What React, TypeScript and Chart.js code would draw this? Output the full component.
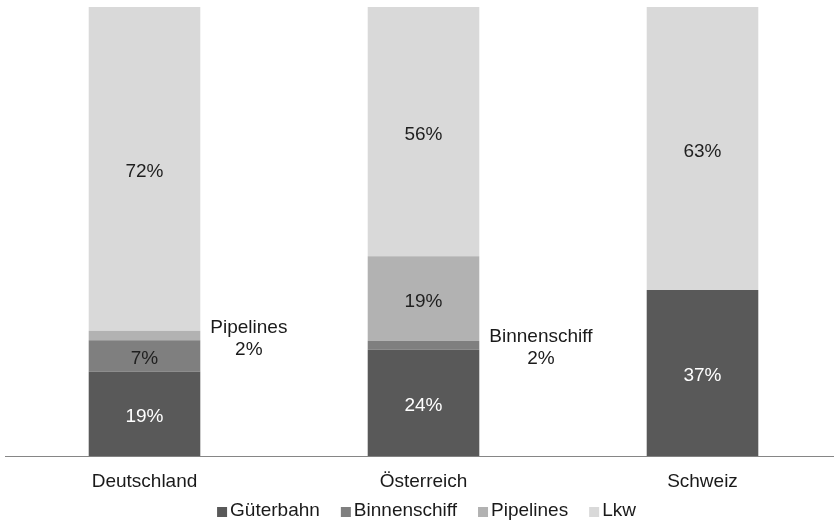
import React, { useEffect, useRef } from "react";
import { Chart, registerables } from "chart.js";

Chart.register(...registerables);

const categories = ["Deutschland", "Österreich", "Schweiz"];
const seriesNames = ["Güterbahn", "Binnenschiff", "Pipelines", "Lkw"];
const gueterbahn = [18.8, 23.7, 37.0];
const binnenschiff = [7.0, 2.0, 0];
const pipelines = [2.1, 18.8, 0];
const lkw = [72.1, 55.5, 63.0];
const seriesColors = ["#595959", "#7f7f7f", "#b2b2b2", "#d9d9d9"];
const labelColors = ["#ffffff", "#1f1f1f", "#1f1f1f", "#1f1f1f"];

const FONT = "'Liberation Sans', Arial, sans-serif";
const FS = 19;

const labelPlugin = {
  id: "segLabels",
  afterDatasetsDraw(chart: any) {
    const ctx = chart.ctx;
    ctx.save();
    ctx.font = `${FS}px ${FONT}`;
    ctx.textAlign = "center";
    ctx.textBaseline = "middle";
    chart.data.datasets.forEach((ds: any, i: number) => {
      const meta = chart.getDatasetMeta(i);
      meta.data.forEach((el: any, j: number) => {
        const v = ds.data[j];
        if (!v || v < 0.5) return;
        const txt = Math.round(v) + "%";
        const cy = (el.y + el.base) / 2 + 3;
        if (v < 4) {
          const lines = [ds.label, txt];
          const w = Math.max(...lines.map((l) => ctx.measureText(l).width));
          const cx = el.x + el.width / 2 + 10 + w / 2;
          ctx.fillStyle = "#1a1a1a";
          ctx.fillText(lines[0], cx, cy - 11);
          ctx.fillText(lines[1], cx, cy + 11);
        } else {
          ctx.fillStyle = labelColors[i];
          ctx.fillText(txt, el.x, cy);
        }
      });
    });
    ctx.restore();
  },
};

const legendPlugin = {
  id: "bottomLegend",
  afterDraw(chart: any) {
    const ctx = chart.ctx;
    const area = chart.chartArea;
    ctx.save();
    ctx.font = `${FS}px ${FONT}`;
    ctx.textBaseline = "middle";
    ctx.textAlign = "left";
    const box = 10;
    const gapText = 3;
    const gapItem = 21;
    const items = chart.data.datasets.map((ds: any) => ({
      text: ds.label,
      color: ds.backgroundColor,
      w: ctx.measureText(ds.label).width,
    }));
    const total =
      items.reduce((s: number, it: any) => s + box + gapText + it.w, 0) + gapItem * (items.length - 1);
    let x = (area.left + area.right) / 2 + 3 - total / 2;
    const cy = 510.5;
    items.forEach((it: any) => {
      ctx.fillStyle = it.color;
      ctx.fillRect(x, 507, box, box);
      ctx.fillStyle = "#1a1a1a";
      ctx.fillText(it.text, x + box + gapText, cy);
      x += box + gapText + it.w + gapItem;
    });
    ctx.restore();
  },
};

export default function App() {
  const ref = useRef<HTMLCanvasElement>(null);
  useEffect(() => {
    document.body.style.margin = "0";
    const values = [gueterbahn, binnenschiff, pipelines, lkw];
    const chart = new Chart(ref.current!, {
      type: "bar",
      data: {
        labels: categories,
        datasets: seriesNames.map((name, i) => ({
          label: name,
          data: values[i],
          backgroundColor: seriesColors[i],
          borderWidth: 0,
          barPercentage: 0.4,
          categoryPercentage: 1,
        })),
      },
      options: {
        animation: false,
        responsive: false,
        devicePixelRatio: 1,
        layout: { padding: { left: 5, right: 5, top: 7, bottom: 23 } },
        scales: {
          x: {
            stacked: true,
            grid: { display: false },
            border: { display: true, color: "#868686", width: 1 },
            ticks: { color: "#1a1a1a", font: { family: FONT, size: FS }, padding: 6 },
          },
          y: {
            stacked: true,
            min: 0,
            max: 100,
            display: false,
          },
        },
        plugins: {
          legend: { display: false },
          tooltip: { enabled: false },
        },
      },
      plugins: [labelPlugin, legendPlugin],
    });
    return () => chart.destroy();
  }, []);
  return (
    <div style={{ width: 834, height: 522, overflow: "hidden", position: "relative", background: "#fff" }}>
      <canvas ref={ref} width={847} height={522} style={{ width: 847, height: 522, display: "block" }} />
    </div>
  );
}
